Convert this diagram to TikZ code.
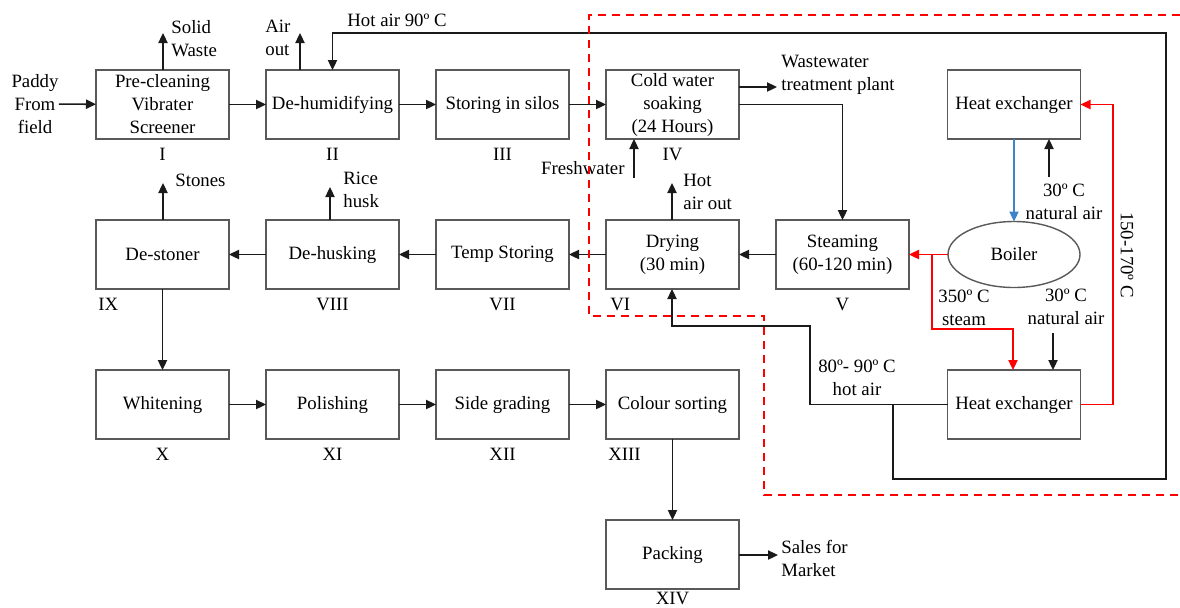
\documentclass[tikz,border=0pt]{standalone}
\usepackage{fontspec}
\setmainfont{Liberation Serif}
\usepackage{xcolor}
\definecolor{cBox}{HTML}{595959}
\definecolor{cLine}{HTML}{1A1A1A}
\definecolor{cHot}{HTML}{FF0000}
\definecolor{cCool}{HTML}{3D85C6}
\usetikzlibrary{arrows.meta,positioning,shapes.geometric}

\begin{document}
\begin{tikzpicture}[
  x=0.5pt,y=-0.5pt,
  font=\fontsize{9.4}{11.5}\selectfont,
  unit/.style={draw=cBox,line width=0.7pt,minimum width=66.5pt,minimum height=34.5pt,
    align=center,inner sep=0pt,outer sep=0pt},
  drum/.style={unit,ellipse,minimum width=66pt,minimum height=33pt},
  num/.style={inner sep=0pt},
  note/.style={align=left,inner sep=0pt},
  fwd/.style={-{Triangle[length=5pt,width=4.6pt]},cLine,line width=0.8pt},
  steamf/.style={fwd,cHot},
  coolf/.style={fwd,cCool},
  zone/.style={cHot,line width=1pt,dash pattern=on 4pt off 3pt},
  node distance=40.5pt and 18.5pt]
\useasboundingbox (0,0) rectangle (1180,607);
% process units
\node[unit] (pre) at (162.5,104.5) {Pre-cleaning\\Vibrater\\Screener};
\node[unit,right=of pre] (dehum) {De-humidifying};
\node[unit,right=of dehum] (silo) {Storing in silos};
\node[unit,right=of silo] (soak) {Cold water\\soaking\\(24 Hours)};
\node[unit,below=of pre] (stoner) {De-stoner};
\node[unit,right=of stoner] (husk) {De-husking};
\node[unit,right=of husk] (temp) {Temp Storing};
\node[unit,right=of temp] (dry) {Drying\\(30 min)};
\node[unit,right=of dry] (steam) {Steaming\\(60-120 min)};
\node[drum,right=19.5pt of steam] (boiler) {Boiler};
\node[unit] (hxtop) at (boiler |- soak) {Heat exchanger};
\node[unit,below=of stoner] (white) {Whitening};
\node[unit,right=of white] (polish) {Polishing};
\node[unit,right=of polish] (grade) {Side grading};
\node[unit,right=of grade] (csort) {Colour sorting};
\node[unit,below=of csort] (pack) {Packing};
\node[unit] (hxbot) at (boiler |- white) {Heat exchanger};
% stage numbers
\node[num,below=4.5pt of pre] (nI) {I};
\node[num,below=4.5pt of dehum] (nII) {II};
\node[num,below=4.5pt of silo] (nIII) {III};
\node[num,below=4.5pt of soak] (nIV) {IV};
\node[num,below=4.5pt of steam] (nV) {V};
\node[num,below=4.5pt of dry.south west,anchor=north west,xshift=2pt] (nVI) {VI};
\node[num,below=4.5pt of temp] (nVII) {VII};
\node[num,below=4.5pt of husk] (nVIII) {VIII};
\node[num,below=4.5pt of stoner.south west,anchor=north west,xshift=1pt] (nIX) {IX};
\node[num,below=4.5pt of white] (nX) {X};
\node[num,below=4.5pt of polish] (nXI) {XI};
\node[num,below=4.5pt of grade] (nXII) {XII};
\node[num,below=4.5pt of csort.south west,anchor=north west,xshift=1pt] (nXIII) {XIII};
\node[num,below=1.5pt of pack] (nXIV) {XIV};
% stream labels
\node[align=center,inner sep=0pt] (paddy) at (35,104) {Paddy\\From\\field};
\node[note,anchor=west] (waste) at (171,39) {Solid\\Waste};
\node[note,anchor=west] (airout) at (265,38) {Air\\out};
\node[inner sep=0pt] (hotair) at (397,20) {Hot air 90º C};
\node[note,anchor=west] (ww) at (781,75) {Wastewater\\treatment plant};
\node[inner sep=0pt,anchor=east] (fresh) at (625,168) {Freshwater};
\node[note,anchor=west] (hotout) at (683,192) {Hot\\air out};
\node[inner sep=0pt,anchor=west] (stones) at (175,180) {Stones};
\node[note,anchor=west] (rhusk) at (343,190) {Rice\\husk};
\node[note,anchor=west] (sales) at (781,558) {Sales for\\Market};
\node[align=center,inner sep=0pt] (natair1) at (1064,202) {30º C\\natural air};
\node[align=center,inner sep=0pt] (steamlbl) at (964,308) {350º C\\steam};
\node[align=center,inner sep=0pt] (natair2) at (1066,307) {30º C\\natural air};
\node[align=center,inner sep=0pt] (hotlbl) at (857,378) {80º- 90º C\\hot air};
\node[inner sep=0pt,rotate=-90] (retlbl) at (1127,255) {150-170º C};
% bend points
\coordinate (wastetip) at (163,33);
\coordinate (airtip) at (300,33);
\coordinate (wwtip) at (777,87);
\coordinate (freshin) at (634,178);
\coordinate (hottip) at (672,183);
\coordinate (stonetip) at (163,183);
\coordinate (husktip) at (330,187);
\coordinate (salestip) at (778,555);
\coordinate (air1in) at (1049,177);
\coordinate (air2in) at (1053,333);
\coordinate (hotbend) at (810,326);
\coordinate (split) at (893,404);
\coordinate (loopse) at (1166,479);
\coordinate (loopne) at (1166,33);
\coordinate (steamsplit) at (932,255);
\coordinate (steambend) at (1013,329);
\coordinate (retx) at (1113,255);
% main flow
\draw[fwd] (paddy) -- (pre);
\draw[fwd] (pre) -- (dehum);
\draw[fwd] (dehum) -- (silo);
\draw[fwd] (silo) -- (soak);
\draw[fwd] (soak.east) -| (steam.north);
\draw[fwd] (steam) -- (dry);
\draw[fwd] (dry) -- (temp);
\draw[fwd] (temp) -- (husk);
\draw[fwd] (husk) -- (stoner);
\draw[fwd] (stoner) -- (white);
\draw[fwd] (white) -- (polish);
\draw[fwd] (polish) -- (grade);
\draw[fwd] (grade) -- (csort);
\draw[fwd] (csort) -- (pack);
% side streams
\draw[fwd] (wastetip |- pre.north) -- (wastetip);
\draw[fwd] (airtip |- dehum.north) -- (airtip);
\draw[fwd] (wwtip -| soak.east) -- (wwtip);
\draw[fwd] (freshin) -- (freshin |- soak.south);
\draw[fwd] (hottip |- dry.north) -- (hottip);
\draw[fwd] (stonetip |- stoner.north) -- (stonetip);
\draw[fwd] (husktip |- husk.north) -- (husktip);
\draw[fwd] (salestip -| pack.east) -- (salestip);
% heat supply
\draw[coolf] (hxtop) -- (boiler);
\draw[fwd] (air1in) -- (air1in |- hxtop.south);
\draw[fwd] (air2in) -- (air2in |- hxbot.north);
\draw[steamf] (boiler) -- (steam);
\draw[steamf] (steamsplit) |- (steambend) -- (steambend |- hxbot.north);
\draw[steamf] (hxbot.east) -| (retx) |- (hxtop.east);
\draw[fwd] (hxbot.west) -| (hotbend) -| (hottip |- dry.south);
\draw[fwd] (split) |- (loopse) -- (loopne) -| (dehum.north);
% parboiling zone
\draw[zone] (1180,15) -- (589,15) -- (589,316) -- (764,316) -- (764,495) -- (1180,495);
\end{tikzpicture}
\end{document}
